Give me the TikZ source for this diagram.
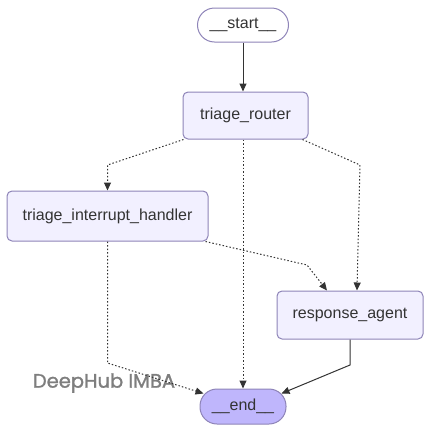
\documentclass[tikz,border=0pt]{standalone}
\usepackage{fontspec}
\setmainfont{Liberation Sans}
\newfontfamily\markfont[FakeBold=1.3]{Poppins}
\usepackage{xcolor}
\usetikzlibrary{arrows.meta,calc}
\definecolor{nodeFill}{HTML}{F2F0FF}
\definecolor{nodeLine}{HTML}{8E84B8}
\definecolor{endFill}{HTML}{BFB6FC}
\definecolor{edgeGray}{HTML}{333333}
\definecolor{markGray}{HTML}{7E7E7E}

\begin{document}
\begin{tikzpicture}[x=1pt, y=-1pt, font=\fontsize{16}{19}\selectfont, text=edgeGray,
  box/.style={draw=nodeLine, fill=nodeFill, line width=1pt, rounded corners=5pt, inner sep=0pt},
  term/.style={draw=nodeLine, line width=1pt, rounded corners=17pt, inner sep=0pt},
  flow/.style={draw=edgeGray, line width=1pt, -{Triangle[length=8pt,width=7pt]}},
  opt/.style={flow, dash pattern=on 1.5pt off 2pt}]
  \useasboundingbox (0,0) rectangle (431,432);
  % nodes
  \node[term, fill=white, minimum width=91pt, minimum height=34pt] (start) at (243,25) {\_\_start\_\_};
  \node[box, minimum width=125pt, minimum height=47pt] (router) at (245.5,115.5) {triage\_router};
  \node[box, minimum width=201pt, minimum height=50pt] (handler) at (107.5,216) {triage\_interrupt\_handler};
  \node[box, minimum width=146pt, minimum height=48pt] (agent) at (350,315) {response\_agent};
  \node[term, fill=endFill, minimum width=86pt, minimum height=35pt] (end) at (243,406.5) {\_\_end\_\_};
  % watermark
  \node[text=markGray, font=\markfont\fontsize{19.5}{22}\selectfont] (mark) at (104,383) {DeepHub IMBA};
  % bend points
  \coordinate (rh) at (107.5,165);
  \coordinate (ra) at (360,165);
  \coordinate (ha) at (307,265);
  \coordinate (he) at (107.5,363);
  \coordinate (ae) at (350,365);
  % edges
  \draw[flow] (start.south) -- (start.south |- router.north);
  \draw[opt] ($(router.south west)+(1,0)$) -- (rh) -- (handler.north);
  \draw[opt] (router.south -| end.north) -- (end.north);
  \draw[opt] ($(router.south east)+(-6,0)$) -- (ra) -- ($(agent.north)+(7,0)$);
  \draw[opt] ($(handler.south east)+(-3,0)$) -- (ha) -- ($(agent.north)+(-23,0)$);
  \draw[opt] (handler.south) -- (he) -- ($(end.west)+(4,-13)$);
  \draw[flow] (agent.south) -- (ae) -- ($(end.east)+(-5,-13)$);
\end{tikzpicture}
\end{document}
